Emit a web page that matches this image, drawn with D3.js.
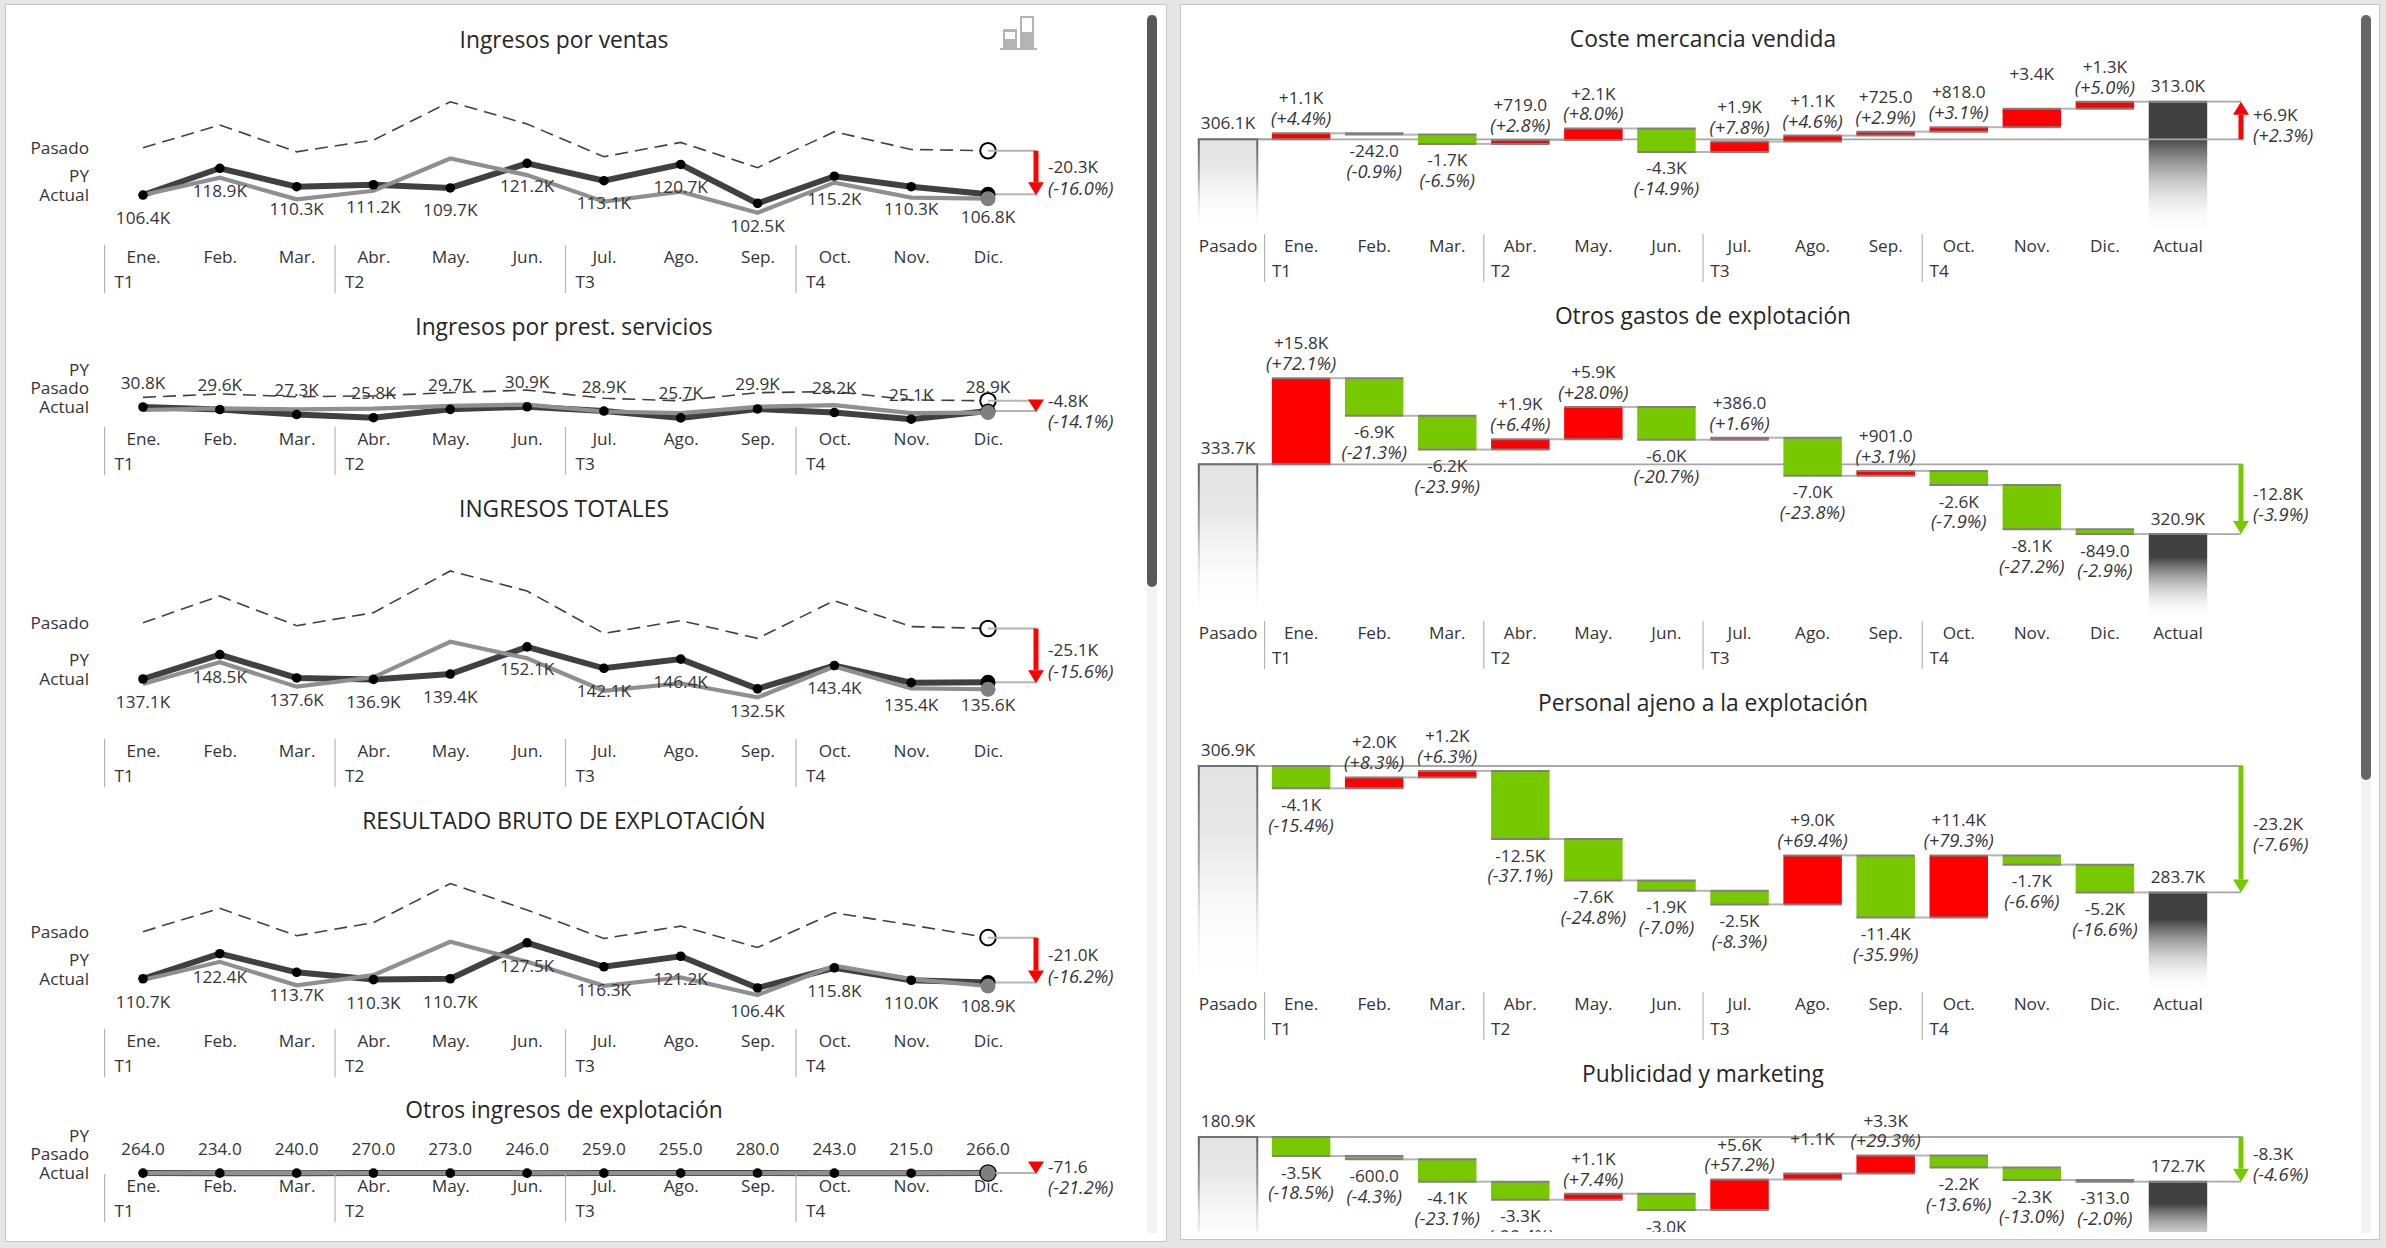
<!DOCTYPE html>
<html>
<head>
<meta charset="utf-8">
<script src="https://d3js.org/d3.v7.min.js"></script>
<style>
    body { margin: 0; background: #e6e6e6; }
    text { font-family: "Open Sans", sans-serif; font-size: 17.2px; fill: #353535; }
    .title { font-size: 22.8px; fill: #262626; text-anchor: middle; }
    .pct { font-style: italic; font-size: 18.3px; }
</style>
</head>
<body>
<svg id="chart" width="2386" height="1248"></svg>
<script>
const months = ["Ene.", "Feb.", "Mar.", "Abr.", "May.", "Jun.", "Jul.", "Ago.", "Sep.", "Oct.", "Nov.", "Dic."];
const quarters = ["T1", "T2", "T3", "T4"];

// left column, values in thousands
const lineTitles = ["Ingresos por ventas", "Ingresos por prest. servicios", "INGRESOS TOTALES", "RESULTADO BRUTO DE EXPLOTACIÓN", "Otros ingresos de explotación"];

const salesActual = [106.4, 118.9, 110.3, 111.2, 109.7, 121.2, 113.1, 120.7, 102.5, 115.2, 110.3, 106.8];
const salesPY = [106.4, 114.5, 104.4, 108.4, 123.5, 115.7, 103.3, 108.0, 98.1, 112.2, 105.2, 104.7];
const salesPasado = [128.5, 139.1, 126.6, 132.1, 150.0, 139.6, 124.3, 131.0, 119.2, 136.0, 127.7, 127.1];

const servicesActual = [30.8, 29.6, 27.3, 25.8, 29.7, 30.9, 28.9, 25.7, 29.9, 28.2, 25.1, 28.9];
const servicesPY = [29.4, 30.2, 29.7, 30.0, 31.3, 31.9, 28.7, 27.9, 30.9, 31.7, 27.9, 28.2];
const servicesPasado = [35.3, 36.9, 35.6, 36.0, 37.5, 38.7, 34.9, 33.7, 37.5, 38.0, 34.1, 33.7];

const totalActual = [137.1, 148.5, 137.6, 136.9, 139.4, 152.1, 142.1, 146.4, 132.5, 143.4, 135.4, 135.6];
const totalPY = [134.8, 144.9, 133.5, 137.9, 154.5, 146.8, 131.6, 135.1, 128.5, 142.9, 132.7, 132.3];
const totalPasado = [163.4, 175.9, 162.0, 168.1, 187.6, 178.2, 158.4, 164.4, 156.1, 173.7, 161.6, 160.7];

const grossActual = [110.7, 122.4, 113.7, 110.3, 110.7, 127.5, 116.3, 121.2, 106.4, 115.8, 110.0, 108.9];
const grossPY = [110.1, 118.6, 107.6, 112.4, 128.0, 118.6, 107.4, 111.3, 103.1, 116.8, 110.5, 107.3];
const grossPasado = [132.7, 143.6, 130.8, 136.9, 155.2, 142.8, 129.5, 135.3, 125.3, 141.5, 135.8, 129.9];

const otherActual = [0.264, 0.234, 0.240, 0.270, 0.273, 0.246, 0.259, 0.255, 0.280, 0.243, 0.215, 0.266];
const otherPY = [0.270, 0.240, 0.235, 0.265, 0.270, 0.250, 0.255, 0.250, 0.285, 0.240, 0.220, 0.260];
const otherPasado = [0.330, 0.320, 0.310, 0.340, 0.350, 0.320, 0.330, 0.325, 0.345, 0.320, 0.300, 0.338];

const lineDelta = [-20.3, -4.8, -25.1, -21.0, -0.0716];
const linePct = [-16.0, -14.1, -15.6, -16.2, -21.2];

// right column
const wfTitles = ["Coste mercancia vendida", "Otros gastos de explotación", "Personal ajeno a la explotación", "Publicidad y marketing"];
const wfCats = ["Pasado"].concat(months, ["Actual"]);

const costPasado = 306.1, costActual = 313.0;
const costDelta = [1.1, -0.242, -1.7, 0.719, 2.1, -4.3, 1.9, 1.1, 0.725, 0.818, 3.4, 1.3];
const costPct = [4.4, -0.9, -6.5, 2.8, 8.0, -14.9, 7.8, 4.6, 2.9, 3.1, null, 5.0];
const costTotal = [6.9, 2.3];

const opexPasado = 333.7, opexActual = 320.9;
const opexDelta = [15.8, -6.9, -6.2, 1.9, 5.9, -6.0, 0.386, -7.0, 0.901, -2.6, -8.1, -0.849];
const opexPct = [72.1, -21.3, -23.9, 6.4, 28.0, -20.7, 1.6, -23.8, 3.1, -7.9, -27.2, -2.9];
const opexTotal = [-12.8, -3.9];

const staffPasado = 306.9, staffActual = 283.7;
const staffDelta = [-4.1, 2.0, 1.2, -12.5, -7.6, -1.9, -2.5, 9.0, -11.4, 11.4, -1.7, -5.2];
const staffPct = [-15.4, 8.3, 6.3, -37.1, -24.8, -7.0, -8.3, 69.4, -35.9, 79.3, -6.6, -16.6];
const staffTotal = [-23.2, -7.6];

const adsPasado = 180.9, adsActual = 172.7;
const adsDelta = [-3.5, -0.6, -4.1, -3.3, 1.1, -3.0, 5.6, 1.1, 3.3, -2.2, -2.3, -0.313];
const adsPct = [-18.5, -4.3, -23.1, -28.4, 7.4, null, 57.2, null, 29.3, -13.6, -13.0, -2.0];
const adsTotal = [-8.3, -4.6];

const RED = "#ff0000", GREEN = "#78c800", DARK = "#404040", GREY = "#8f8f8f", CONN = "#b4b4b4";
const LINE_PX_PER_K = 2.14, WF_PX_PER_K = 5.45;

const svg = d3.select("#chart");
const defs = svg.append("defs");

function fmt(v) {
    return Math.abs(v) >= 1 ? v.toFixed(1) + "K" : (v * 1000).toFixed(1);
}
function signed(v) {
    return (v > 0 ? "+" : "") + fmt(v);
}
function pctText(p) {
    return "(" + (p > 0 ? "+" : "") + p.toFixed(1) + "%)";
}

function drawChrome() {
    svg.append("rect").attr("x", 5.5).attr("y", 4.5).attr("width", 1161).attr("height", 1237)
       .attr("fill", "white").attr("stroke", "#c4c4c4");
    svg.append("rect").attr("x", 1180.5).attr("y", 4.5).attr("width", 1199).attr("height", 1235)
       .attr("fill", "white").attr("stroke", "#c4c4c4");

    svg.append("rect").attr("x", 1147).attr("y", 15).attr("width", 10).attr("height", 1218).attr("fill", "#f2f2f2");
    svg.append("rect").attr("x", 1147).attr("y", 15).attr("width", 10).attr("height", 572).attr("rx", 5).attr("fill", "#595959");
    svg.append("rect").attr("x", 2361).attr("y", 15).attr("width", 10).attr("height", 1218).attr("fill", "#f2f2f2");
    svg.append("rect").attr("x", 2361).attr("y", 15).attr("width", 10).attr("height", 765).attr("rx", 5).attr("fill", "#666666");

    // small variance icon at the top right of the left panel
    let icon = svg.append("g");
    icon.append("rect").attr("x", 1000).attr("y", 48).attr("width", 37).attr("height", 2).attr("fill", "#b4b4b4");
    icon.append("rect").attr("x", 1003).attr("y", 29).attr("width", 14).attr("height", 19).attr("fill", "#b4b4b4");
    icon.append("rect").attr("x", 1005).attr("y", 32).attr("width", 10).attr("height", 7).attr("fill", "white");
    icon.append("rect").attr("x", 1020).attr("y", 16).attr("width", 14).attr("height", 32).attr("fill", "#b4b4b4");
    icon.append("rect").attr("x", 1022).attr("y", 18).attr("width", 10).attr("height", 14).attr("fill", "white");
}

function drawArrow(g, x, y0, y1, color) {
    // y0 tail, y1 tip
    let dir = y1 > y0 ? 1 : -1;
    let head = Math.min(13, Math.abs(y1 - y0));
    g.append("rect").attr("x", x - 2.5).attr("width", 5)
     .attr("y", Math.min(y0, y1 - dir * head)).attr("height", Math.max(0, Math.abs(y1 - y0) - head))
     .attr("fill", color);
    g.append("path")
     .attr("d", "M" + (x - 8) + "," + (y1 - dir * head) + "L" + (x + 8) + "," + (y1 - dir * head) + "L" + x + "," + y1 + "Z")
     .attr("fill", color);
}

function drawCategoryAxis(g, scale, top, sepOffset, quarterPad) {
    let axis = g.append("g")
                .attr("transform", "translate(0," + (top + 12) + ")")
                .call(d3.axisBottom(scale).tickSize(0).tickPadding(0));
    axis.select(".domain").remove();
    axis.selectAll("text").attr("y", 0).attr("dy", "0.35em");

    quarters.forEach(function(q, i) {
        let x = scale(months[i * 3]) + sepOffset;
        g.append("line").attr("x1", x).attr("x2", x).attr("y1", top).attr("y2", top + 48)
         .attr("stroke", "#b4b4b4").attr("stroke-width", 1.2);
        g.append("text").attr("x", x + quarterPad).attr("y", top + 36.5).attr("dy", "0.35em").text(q);
    });
}

function drawLineChart(n, actual, py, pasado, layout) {
    let g = svg.append("g");
    let x = d3.scalePoint().domain(months).range([143, 988]);
    let base = d3.min(actual.concat(py, pasado));
    let y = d3.scaleLinear().domain([base, base + 100]).range([layout.bottom, layout.bottom - LINE_PX_PER_K * 100]);
    let line = d3.line().x(function(d, i) { return x(months[i]); }).y(function(d) { return y(d); });

    g.append("text").attr("class", "title").attr("x", 564).attr("y", layout.title).attr("dy", "0.35em").text(lineTitles[n]);

    g.append("path").datum(pasado).attr("d", line).attr("fill", "none")
     .attr("stroke", DARK).attr("stroke-width", 1.6).attr("stroke-dasharray", "13,7");
    g.append("path").datum(actual).attr("d", line).attr("fill", "none")
     .attr("stroke", DARK).attr("stroke-width", 6);
    g.append("path").datum(py).attr("d", line).attr("fill", "none")
     .attr("stroke", GREY).attr("stroke-width", 4.2);

    g.selectAll(".dot").data(actual).enter().append("circle")
     .attr("cx", function(d, i) { return x(months[i]); })
     .attr("cy", function(d) { return y(d); })
     .attr("r", 4.8).attr("fill", "black");

    let last = months.length - 1;
    let yAct = y(actual[last]), yPy = y(py[last]), yPas = y(pasado[last]);
    g.append("circle").attr("cx", x(months[last])).attr("cy", yPas).attr("r", 7.8).attr("fill", "white")
     .attr("stroke", "black").attr("stroke-width", 2);
    g.append("line").attr("x1", x(months[last])).attr("x2", 1036).attr("y1", yPas).attr("y2", yPas)
     .attr("stroke", CONN).attr("stroke-width", 2);
    g.append("line").attr("x1", x(months[last])).attr("x2", 1036).attr("y1", yAct).attr("y2", yAct)
     .attr("stroke", CONN).attr("stroke-width", 2);
    g.append("circle").attr("cx", x(months[last])).attr("cy", yAct).attr("r", 7.5).attr("fill", "black");
    g.append("circle").attr("cx", x(months[last])).attr("cy", yPy).attr("r", 7.5).attr("fill", "#7f7f7f");

    // very small variances keep a full arrow head
    let arrowTop = Math.min(yPas, yAct - 11.5);
    drawArrow(g, 1036, arrowTop, yAct + 1, RED);

    let mid = (yPas + yAct) / 2 + (yAct - yPas < 3 ? -1 : 0);
    g.append("text").attr("x", 1048).attr("y", mid - 5).attr("dy", "0.35em").text(fmt(lineDelta[n]));
    g.append("text").attr("class", "pct").attr("x", 1048).attr("y", mid + 16).attr("dy", "0.35em").text(pctText(linePct[n]));

    g.selectAll(".lab").data(actual).enter().append("text")
     .attr("x", function(d, i) { return x(months[i]); })
     .attr("y", function(d) { return y(d) + layout.labelOffset; })
     .attr("dy", "0.35em").attr("text-anchor", "middle")
     .text(fmt);

    // series names, stacked upward from Actual when they would collide
    let labelY = y(actual[0]);
    let series = { Actual: actual, PY: py, Pasado: pasado };
    layout.order.forEach(function(name, i) {
        if (i > 0) labelY = Math.min(y(series[name][0]), labelY - 18.7);
        g.append("text").attr("x", 89).attr("y", labelY).attr("dy", "0.35em").attr("text-anchor", "end").text(name);
    });

    drawCategoryAxis(g, x, layout.axisTop, -38.4, 10);
}

function gradient(id, stops) {
    let grad = defs.append("linearGradient").attr("id", id)
                   .attr("x1", 0).attr("x2", 0).attr("y1", 0).attr("y2", 1);
    stops.forEach(function(s) {
        grad.append("stop").attr("offset", s[0]).attr("stop-color", s[1]).attr("stop-opacity", s[2]);
    });
}

function drawWaterfall(n, pasado, actual, delta, pct, total, layout) {
    let g = svg.append("g").attr("clip-path", "url(#wfClip)");
    let x = d3.scaleBand().domain(wfCats).range([1191.5, 2214.5]).paddingInner(0.2).paddingOuter(0.1);
    let y = d3.scaleLinear().domain([pasado, pasado + 100]).range([layout.base, layout.base - WF_PX_PER_K * 100]);
    let w = x.bandwidth();
    let arrowX = 2241;

    g.append("text").attr("class", "title").attr("x", 1703).attr("y", layout.title).attr("dy", "0.35em").text(wfTitles[n]);

    // Pasado and Actual bars are cut off and fade out towards the axis
    let xPas = x("Pasado"), xAct = x("Actual");
    g.append("rect").attr("x", xPas).attr("y", y(pasado)).attr("width", w).attr("height", layout.barBottom - y(pasado))
     .attr("fill", "url(#pasadoFade)");
    [xPas, xPas + w].forEach(function(px) {
        g.append("rect").attr("x", px - 1).attr("y", y(pasado)).attr("width", 2).attr("height", layout.barBottom - y(pasado))
         .attr("fill", "url(#edgeFade)");
    });
    g.append("rect").attr("x", xAct).attr("y", y(actual)).attr("width", w).attr("height", layout.barBottom - y(actual))
     .attr("fill", "url(#actualFade)");

    // running sum gives every monthly bar its start and end
    let running = pasado;
    let steps = delta.map(function(d, i) {
        let s = { month: months[i], value: d, pct: pct[i], from: running, to: running + d };
        running += d;
        return s;
    });
    // keep the last step tied to the stated end value
    steps[steps.length - 1].to = actual;

    steps.forEach(function(s, i) {
        let nextX = i < steps.length - 1 ? x(steps[i + 1].month) : xAct;
        g.append("line").attr("x1", x(s.month) + w).attr("x2", nextX).attr("y1", y(s.to)).attr("y2", y(s.to))
         .attr("stroke", CONN).attr("stroke-width", 2);
    });
    g.append("line").attr("x1", xPas + w).attr("x2", x(months[0])).attr("y1", y(pasado)).attr("y2", y(pasado))
     .attr("stroke", CONN).attr("stroke-width", 2);

    // Pasado level runs across to the total arrow
    g.append("line").attr("x1", xPas).attr("x2", arrowX + 2).attr("y1", y(pasado)).attr("y2", y(pasado))
     .attr("stroke", "#a6a6a6").attr("stroke-width", 1.8);
    g.append("line").attr("x1", xAct).attr("x2", arrowX).attr("y1", y(actual)).attr("y2", y(actual))
     .attr("stroke", "#a6a6a6").attr("stroke-width", 1.8);

    g.selectAll(".bar").data(steps).enter().append("rect")
     .attr("x", function(d) { return x(d.month); })
     .attr("y", function(d) { return Math.min(y(d.from), y(d.to)); })
     .attr("width", w)
     .attr("height", function(d) { return Math.abs(y(d.from) - y(d.to)); })
     .attr("fill", function(d) { return d.value > 0 ? RED : GREEN; });

    steps.forEach(function(s) {
        [s.from, s.to].forEach(function(v) {
            g.append("line").attr("x1", x(s.month)).attr("x2", x(s.month) + w).attr("y1", y(v)).attr("y2", y(v))
             .attr("stroke", "#808080").attr("stroke-width", 2);
        });
    });
    g.append("line").attr("x1", xPas - 1).attr("x2", xPas + w + 1).attr("y1", y(pasado)).attr("y2", y(pasado))
     .attr("stroke", "#707070").attr("stroke-width", 2);
    g.append("line").attr("x1", xAct).attr("x2", xAct + w).attr("y1", y(actual)).attr("y2", y(actual))
     .attr("stroke", "#808080").attr("stroke-width", 2);

    steps.forEach(function(s) {
        let cx = x(s.month) + w / 2;
        let top = Math.min(y(s.from), y(s.to)), bottom = Math.max(y(s.from), y(s.to));
        let y1 = s.value > 0 ? top - 35 : bottom + 16.5;
        let y2 = s.value > 0 ? top - 14.5 : bottom + 37;
        g.append("text").attr("x", cx).attr("y", y1).attr("dy", "0.35em").attr("text-anchor", "middle").text(signed(s.value));
        if (s.pct !== null)
            g.append("text").attr("class", "pct").attr("x", cx).attr("y", y2).attr("dy", "0.35em").attr("text-anchor", "middle").text(pctText(s.pct));
    });

    g.append("text").attr("x", xPas + w / 2).attr("y", y(pasado) - 16).attr("dy", "0.35em").attr("text-anchor", "middle").text(fmt(pasado));
    g.append("text").attr("x", xAct + w / 2).attr("y", y(actual) - 15.5).attr("dy", "0.35em").attr("text-anchor", "middle").text(fmt(actual));

    drawArrow(g, arrowX, y(pasado), y(actual), total[0] > 0 ? RED : GREEN);
    let mid = (y(pasado) + y(actual)) / 2;
    g.append("text").attr("x", 2253).attr("y", mid - 5.5).attr("dy", "0.35em").text(signed(total[0]));
    g.append("text").attr("class", "pct").attr("x", 2253).attr("y", mid + 15.5).attr("dy", "0.35em").text(pctText(total[1]));

    // the last waterfall is scrolled so far that its axis is out of view
    if (layout.axisTop !== null)
        drawCategoryAxis(g, x, layout.axisTop, -7.3, 7.3);
}

defs.append("clipPath").attr("id", "wfClip").append("rect")
    .attr("x", 1181).attr("y", 5).attr("width", 1178).attr("height", 1227);
gradient("pasadoFade", [[0, "#e4e4e4", 1], [0.3, "#e8e8e8", 1], [1, "#ffffff", 0]]);
gradient("edgeFade", [[0, "#606060", 1], [0.4, "#a0a0a0", 1], [1, "#ffffff", 0]]);
gradient("actualFade", [[0, "#404040", 1], [0.27, "#404040", 1], [1, "#ffffff", 0]]);

drawChrome();

drawLineChart(0, salesActual, salesPY, salesPasado, { title: 40, bottom: 212.8, axisTop: 245, labelOffset: 22.5, order: ["Actual", "PY", "Pasado"] });
drawLineChart(1, servicesActual, servicesPY, servicesPasado, { title: 327.5, bottom: 419.2, axisTop: 427, labelOffset: -24.5, order: ["Actual", "Pasado", "PY"] });
drawLineChart(2, totalActual, totalPY, totalPasado, { title: 509, bottom: 697.4, axisTop: 739, labelOffset: 22.5, order: ["Actual", "PY", "Pasado"] });
drawLineChart(3, grossActual, grossPY, grossPasado, { title: 821, bottom: 995, axisTop: 1029, labelOffset: 23, order: ["Actual", "PY", "Pasado"] });
drawLineChart(4, otherActual, otherPY, otherPasado, { title: 1110, bottom: 1173.2, axisTop: 1174, labelOffset: -24, order: ["Actual", "Pasado", "PY"] });

drawWaterfall(0, costPasado, costActual, costDelta, costPct, costTotal, { title: 39.5, base: 139.3, barBottom: 233, axisTop: 234 });
drawWaterfall(1, opexPasado, opexActual, opexDelta, opexPct, opexTotal, { title: 316.5, base: 464.3, barBottom: 620, axisTop: 621 });
drawWaterfall(2, staffPasado, staffActual, staffDelta, staffPct, staffTotal, { title: 703, base: 766, barBottom: 992, axisTop: 992 });
drawWaterfall(3, adsPasado, adsActual, adsDelta, adsPct, adsTotal, { title: 1074.5, base: 1137, barBottom: 1262, axisTop: null });
</script>
</body>
</html>
